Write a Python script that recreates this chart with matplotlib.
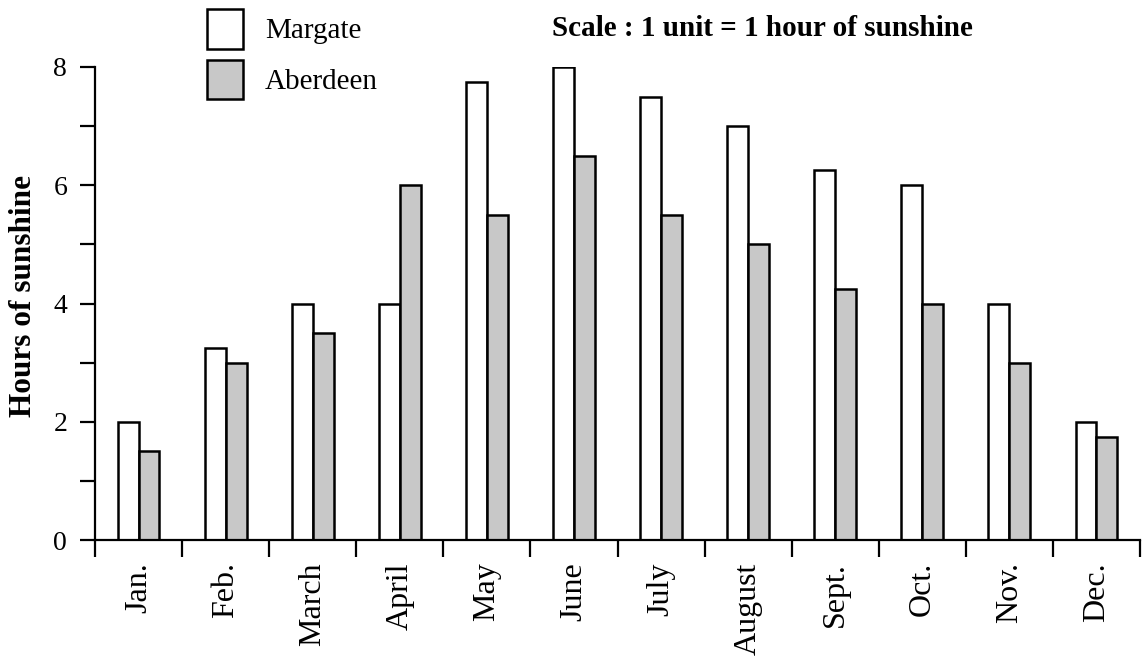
import numpy as np
import matplotlib.pyplot as plt
from matplotlib.ticker import FixedLocator, NullFormatter

plt.rcParams['font.family'] = ['Liberation Serif', 'DejaVu Serif']

months = ['Jan.', 'Feb.', 'March', 'April', 'May', 'June', 'July',
          'August', 'Sept.', 'Oct.', 'Nov.', 'Dec.']
margate = [2, 3.25, 4, 4, 7.75, 8, 7.5, 7, 6.25, 6, 4, 2]
aberdeen = [1.5, 3, 3.5, 6, 5.5, 6.5, 5.5, 5, 4.25, 4, 3, 1.75]

W, H = 1143, 662
fig = plt.figure(figsize=(W / 100, H / 100), dpi=100)
ax = fig.add_axes([95 / W, 1 - 540 / H, 1045 / W, 473 / H])

x = np.arange(len(months))
bw = 0.24
lw = 1.8
ax.bar(x - bw, margate, width=bw, align='edge', facecolor='white',
       edgecolor='black', linewidth=lw, label='Margate')
ax.bar(x, aberdeen, width=bw, align='edge', facecolor='#c8c8c8',
       edgecolor='black', linewidth=lw, label='Aberdeen')

ax.set_xlim(-0.5, 11.5)
ax.set_ylim(0, 8)
for s in ('top', 'right'):
    ax.spines[s].set_visible(False)
for s in ('left', 'bottom'):
    ax.spines[s].set_linewidth(1.6)

# month names sit under the groups, ticks mark the group boundaries
ax.set_xticks(x)
ax.set_xticklabels(months, rotation=90, fontsize=23)
ax.xaxis.set_minor_locator(FixedLocator(np.arange(-0.5, 12, 1)))
ax.xaxis.set_minor_formatter(NullFormatter())
ax.tick_params(axis='x', which='major', length=0, pad=16)
ax.tick_params(axis='x', which='minor', length=12, width=1.6, direction='out')

ax.set_yticks([0, 2, 4, 6, 8])
ax.yaxis.set_minor_locator(FixedLocator([1, 3, 5, 7]))
ax.tick_params(axis='y', which='both', length=11, width=1.6, direction='out')
ax.tick_params(axis='y', which='major', labelsize=20, pad=9)

ax.set_ylabel('Hours of sunshine', fontsize=22.5, fontweight='bold')
ax.yaxis.set_label_coords(-0.055, 0.515)

fig.legend(loc='upper left', bbox_to_anchor=(207 / W, 1 - 9 / H),
           frameon=False, fontsize=21, borderpad=0, borderaxespad=0,
           handlelength=1.23, handleheight=1.71, handletextpad=0.75,
           labelspacing=0.38)

fig.text(552 / W, 1 - 29 / H, 'Scale : 1 unit = 1 hour of sunshine',
         fontsize=21, fontweight='bold', ha='left', va='center')

fig.savefig('out.png', dpi=100, facecolor='white')
